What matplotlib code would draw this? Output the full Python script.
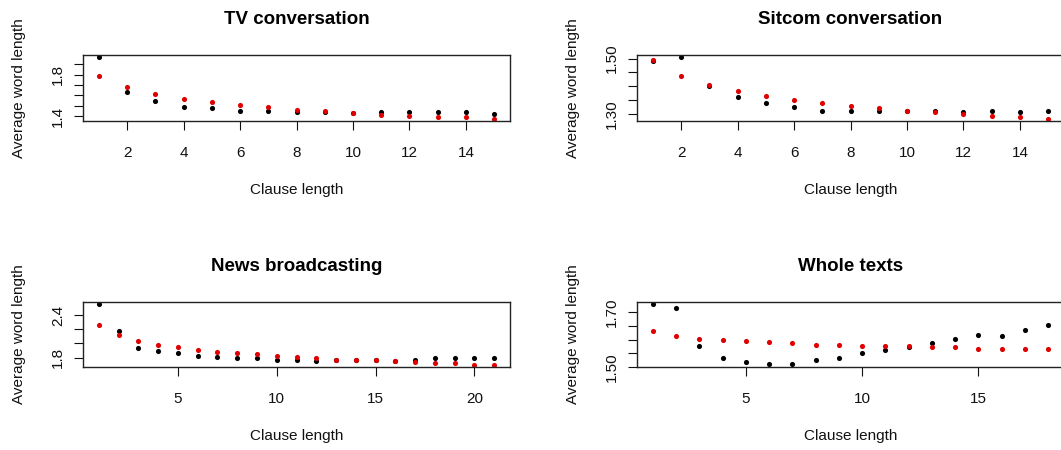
import numpy as np
import matplotlib.pyplot as plt

plt.rcParams['font.family'] = ['Liberation Sans', 'DejaVu Sans']

# average word length by clause length (black = observed, red = fitted)
tv_black = [1.965, 1.631, 1.547, 1.489, 1.476, 1.450, 1.450, 1.440, 1.437, 1.431,
            1.440, 1.440, 1.440, 1.440, 1.418]
tv_red = [1.787, 1.680, 1.609, 1.560, 1.538, 1.502, 1.489, 1.463, 1.450, 1.431,
          1.415, 1.402, 1.392, 1.392, 1.376]

sitcom_black = [1.492, 1.504, 1.402, 1.361, 1.339, 1.324, 1.311, 1.311, 1.311, 1.311,
                1.311, 1.306, 1.312, 1.306, 1.312]
sitcom_red = [1.494, 1.436, 1.406, 1.383, 1.366, 1.352, 1.339, 1.329, 1.321, 1.312,
              1.308, 1.299, 1.294, 1.289, 1.284]

news_black = [2.548, 2.170, 1.929, 1.892, 1.860, 1.823, 1.809, 1.791, 1.791, 1.772,
              1.772, 1.754, 1.763, 1.763, 1.763, 1.749, 1.772, 1.795, 1.795, 1.795, 1.795]
news_red = [2.257, 2.114, 2.031, 1.980, 1.948, 1.911, 1.879, 1.865, 1.846, 1.828,
            1.809, 1.791, 1.772, 1.772, 1.772, 1.749, 1.740, 1.721, 1.721, 1.703, 1.703]

whole_black = [1.728, 1.715, 1.576, 1.532, 1.518, 1.510, 1.510, 1.527, 1.532, 1.550,
               1.562, 1.572, 1.586, 1.603, 1.616, 1.612, 1.635, 1.653]
whole_red = [1.630, 1.612, 1.603, 1.598, 1.595, 1.590, 1.586, 1.581, 1.581, 1.576,
             1.576, 1.576, 1.572, 1.572, 1.567, 1.567, 1.567, 1.567]

titles = ['TV conversation', 'Sitcom conversation', 'News broadcasting', 'Whole texts']
xticks = [[2, 4, 6, 8, 10, 12, 14], [2, 4, 6, 8, 10, 12, 14], [5, 10, 15, 20], [5, 10, 15]]
yticks = [[1.4, 1.5, 1.6, 1.7, 1.8, 1.9], [1.30, 1.35, 1.40, 1.45, 1.50],
          [1.8, 2.0, 2.2, 2.4], [1.50, 1.55, 1.60, 1.65, 1.70]]
ylabels = [['1.4', '', '', '', '1.8', ''], ['1.30', '', '', '', '1.50'],
           ['1.8', '', '', '2.4'], ['1.50', '', '', '', '1.70']]
series = [(tv_black, tv_red), (sitcom_black, sitcom_red),
          (news_black, news_red), (whole_black, whole_red)]

W, H = 1061, 450
fig = plt.figure(figsize=(W / 100, H / 100), dpi=100)

# axes boxes in pixels: left, top, right, bottom (right column runs past the edge)
boxes = [(83, 55, 510, 121), (637, 55, 1064, 121),
         (83, 302, 510, 367), (637, 302, 1064, 367)]

for i in range(4):
    l, t, r, b = boxes[i]
    ax = fig.add_axes([l / W, (H - b) / H, (r - l) / W, (b - t) / H])
    black, red = series[i]
    x = np.arange(1, len(black) + 1)
    ax.plot(x, black, 'o', color='black', markersize=3.7, markeredgewidth=0)
    ax.plot(x, red, 'o', color='#e00000', markersize=3.7, markeredgewidth=0)
    ax.margins(x=0.04, y=0.04)

    ax.set_xticks(xticks[i])
    ax.set_yticks(yticks[i])
    ax.set_yticklabels(ylabels[i], rotation=90, va='center')
    ax.tick_params(axis='both', length=6.7, width=0.8, labelsize=11, colors='#111111')
    ax.tick_params(axis='x', pad=11)
    ax.tick_params(axis='y', pad=6)
    for s in ax.spines.values():
        s.set_linewidth(1.0)
        s.set_color('#222222')

    ax.set_title(titles[i], fontsize=13.5, fontweight='bold', pad=22)
    ax.set_xlabel('Clause length', fontsize=11, labelpad=17, color='#111111')
    ax.set_ylabel('Average word length', fontsize=11, labelpad=18, color='#111111')

fig.savefig('out.png', dpi=100)
